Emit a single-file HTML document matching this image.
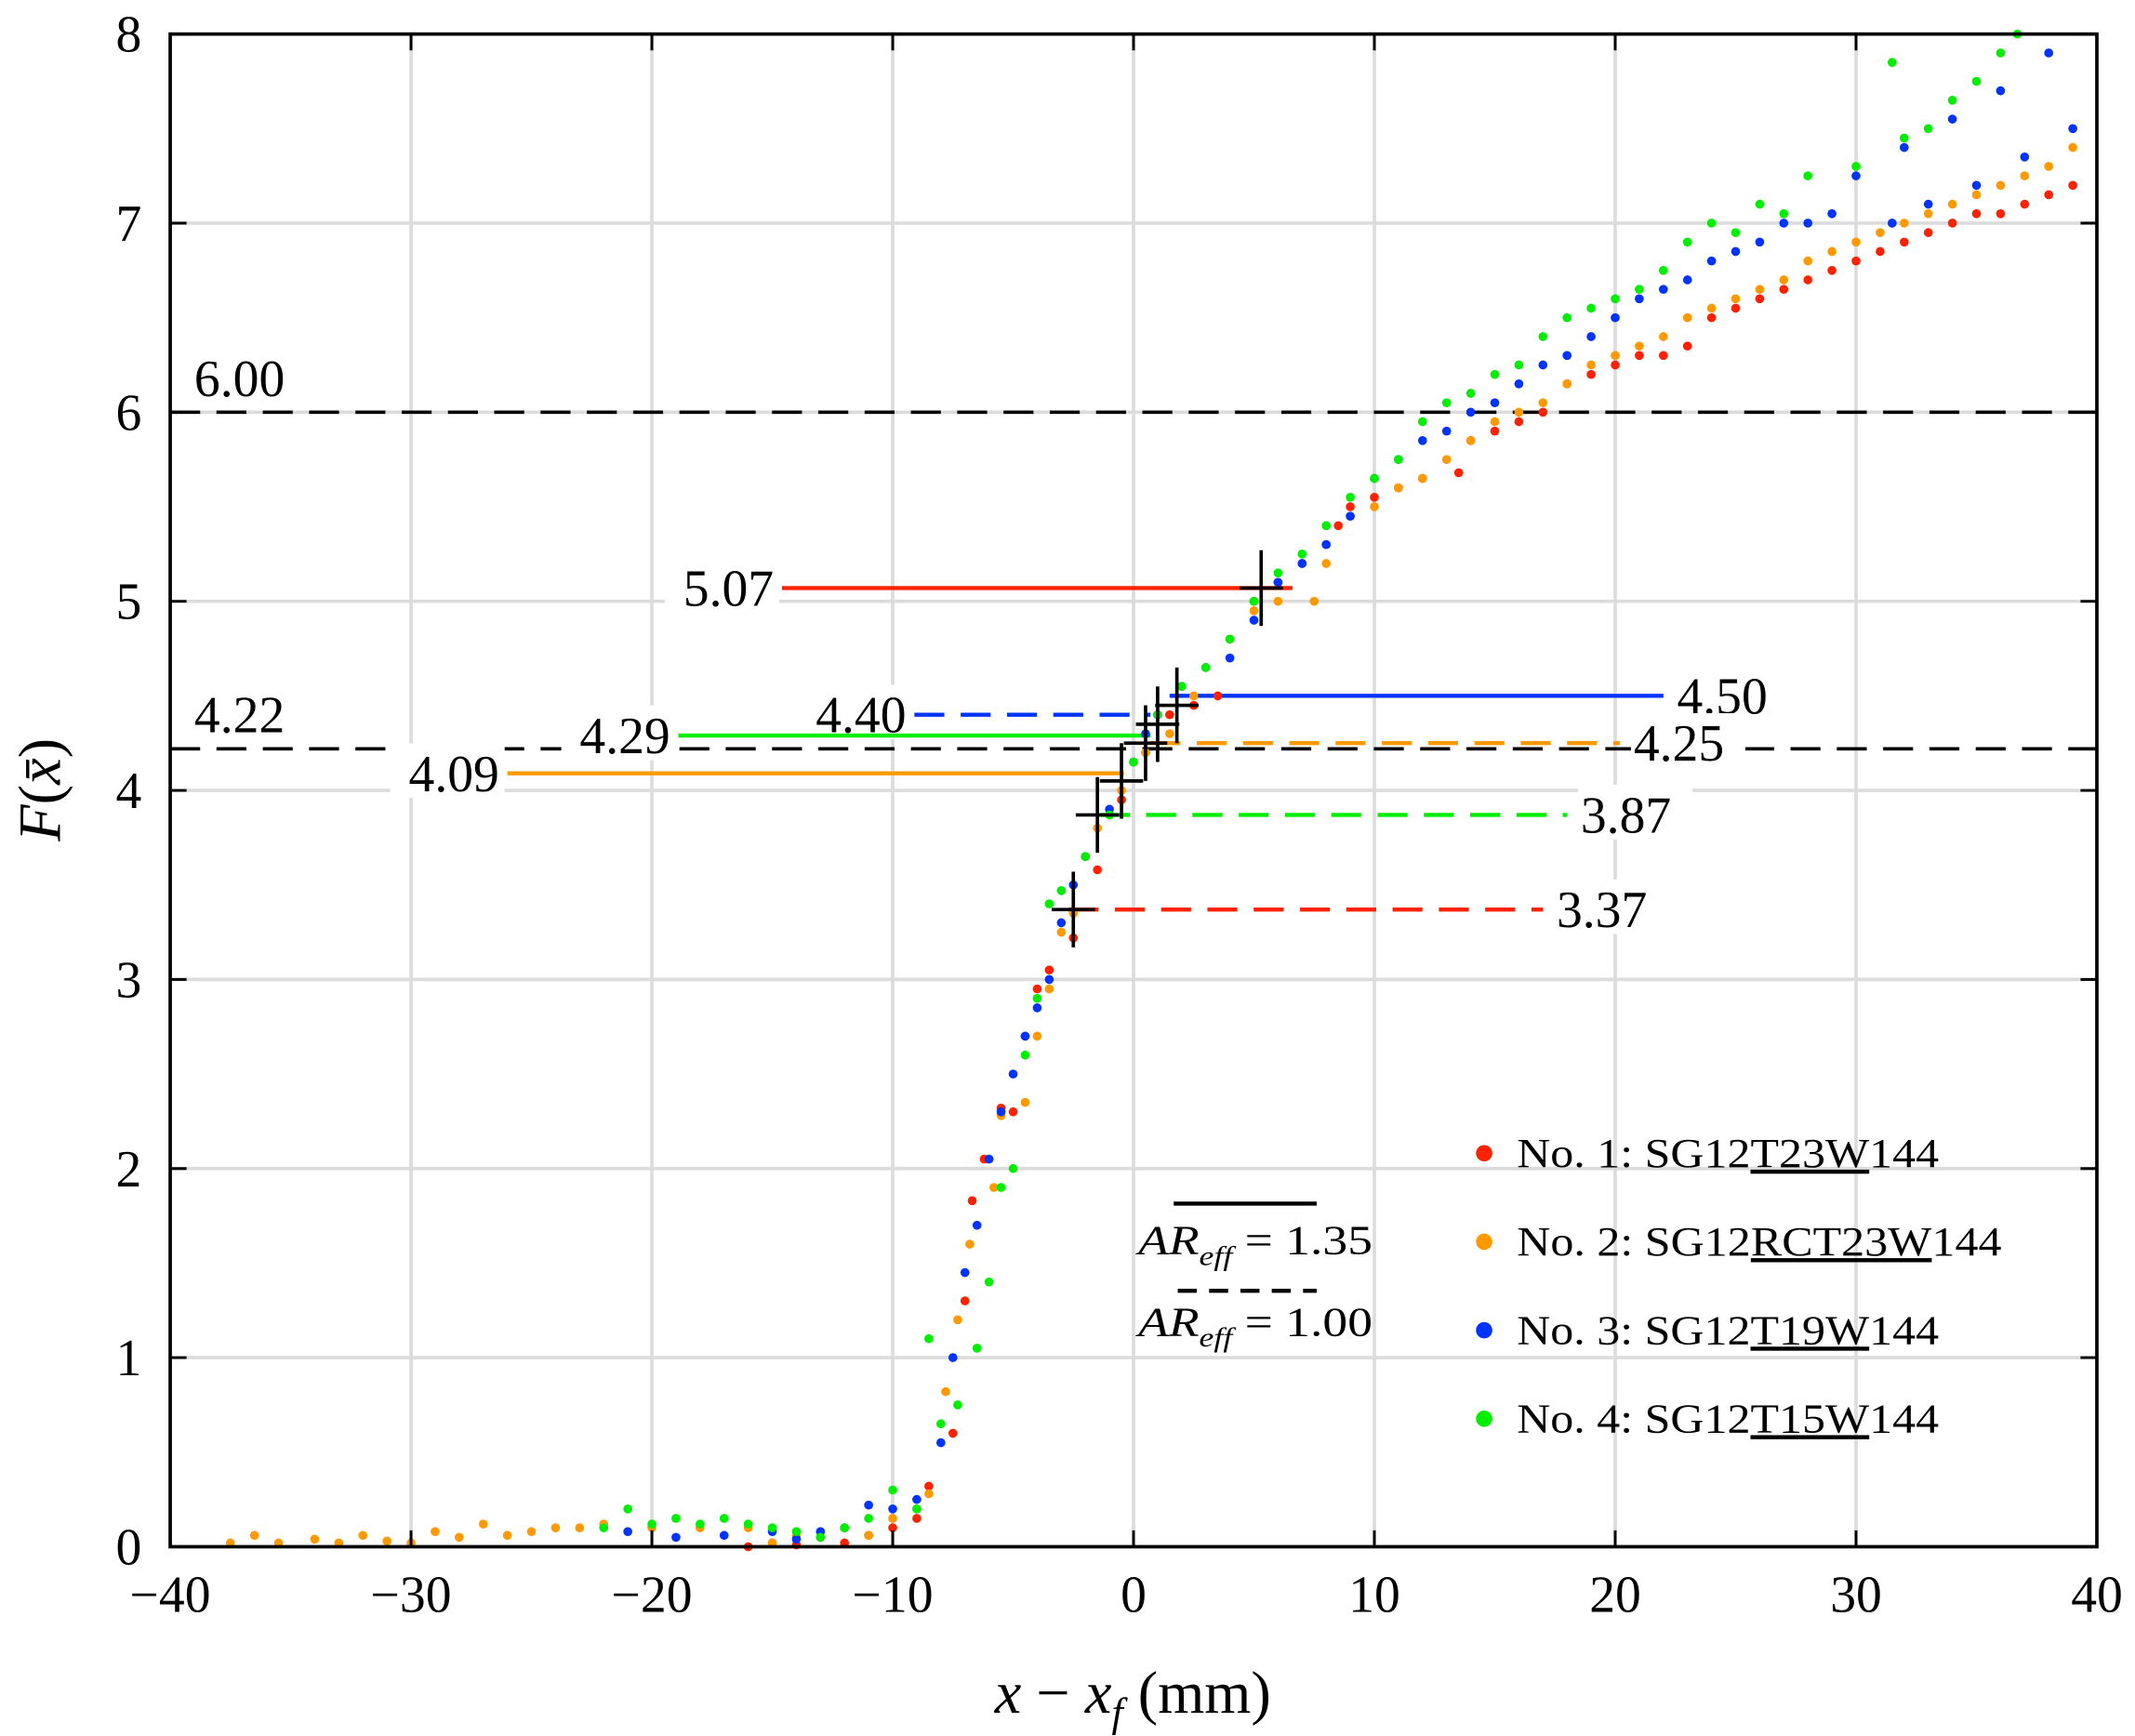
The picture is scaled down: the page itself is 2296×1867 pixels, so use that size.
<!DOCTYPE html>
<html><head><meta charset="utf-8"><style>
html,body{margin:0;padding:0;background:#fff}
svg{display:block}
text{font-family:"Liberation Serif",serif;fill:#000}
</style></head><body>
<svg id="chart" width="2296" height="1867" viewBox="0 0 1568 1275" xmlns="http://www.w3.org/2000/svg">
<g id="grid"></g>
<g id="reflines"></g>
<g id="points"></g>
<g id="crosses"></g>
<g id="axes"></g>
<g font-size="30">
  <circle cx="1090" cy="847" r="6" fill="#ff2200"/>
  <text x="1114" y="857" font-size="30" textLength="310" lengthAdjust="spacingAndGlyphs">No. 1: SG12<tspan text-decoration="underline">T23W</tspan>144</text>
  <circle cx="1090" cy="912" r="6" fill="#ff9900"/>
  <text x="1114" y="922" font-size="30" textLength="356" lengthAdjust="spacingAndGlyphs">No. 2: SG12<tspan text-decoration="underline">RCT23W</tspan>144</text>
  <circle cx="1090" cy="977" r="6" fill="#0033ff"/>
  <text x="1114" y="987" font-size="30" textLength="310" lengthAdjust="spacingAndGlyphs">No. 3: SG12<tspan text-decoration="underline">T19W</tspan>144</text>
  <circle cx="1090" cy="1042" r="6" fill="#00ee00"/>
  <text x="1114" y="1052" font-size="30" textLength="310" lengthAdjust="spacingAndGlyphs">No. 4: SG12<tspan text-decoration="underline">T15W</tspan>144</text>
</g>
<g>
  <line x1="862" y1="884" x2="967" y2="884" stroke="#000" stroke-width="3"/>
  <text x="836" y="921" font-size="30" font-style="italic" textLength="172" lengthAdjust="spacingAndGlyphs">AR<tspan font-size="20" dy="8">eff</tspan><tspan font-style="normal" dy="-8"> = 1.35</tspan></text>
  <line x1="865" y1="948" x2="967" y2="948" stroke="#000" stroke-width="3" stroke-dasharray="14,9"/>
  <text x="836" y="981" font-size="30" font-style="italic" textLength="172" lengthAdjust="spacingAndGlyphs">AR<tspan font-size="20" dy="8">eff</tspan><tspan font-style="normal" dy="-8"> = 1.00</tspan></text>
</g>
<text x="832" y="1258" font-size="44" text-anchor="middle"><tspan font-style="italic">x</tspan> − <tspan font-style="italic">x</tspan><tspan font-style="italic" font-size="30" dy="10">f</tspan><tspan dy="-10"> (mm)</tspan></text>
<text transform="translate(44,580) rotate(-90)" font-size="44" text-anchor="middle"><tspan font-style="italic">F</tspan>(<tspan font-style="italic">x̄</tspan>)</text>
</svg>
<script>
const xTicks=[-40,-30,-20,-10,0,10,20,30,40];
const yTicks=[0,1,2,3,4,5,6,7,8];
const redData=[[-16,0.0],[-15,0.02],[-14,0.01],[-13,0.05],[-12,0.02],[-11,0.06],[-10,0.1],[-9,0.15],[-8.5,0.32],[-7.5,0.6],[-7,1.3],[-6.7,1.83],[-6.2,2.05],[-5.5,2.32],[-5,2.3],[-4.5,2.7],[-4,2.95],[-3.5,3.05],[-2.5,3.22],[-1.5,3.58],[-0.5,3.95],[0.5,4.2],[1.5,4.4],[2.5,4.45],[3.5,4.5],[5,5.0],[6,5.1],[7,5.2],[8,5.3],[8.5,5.4],[9,5.5],[10,5.55],[11,5.6],[12,5.65],[13.5,5.68],[14,5.85],[15,5.9],[16,5.95],[17,6.0],[18,6.15],[19,6.2],[20,6.25],[21,6.3],[22,6.3],[23,6.35],[24,6.5],[25,6.55],[26,6.6],[27,6.65],[28,6.7],[29,6.75],[30,6.8],[31,6.85],[32,6.9],[33,6.95],[34,7.0],[35,7.05],[36,7.05],[37,7.1],[38,7.15],[39,7.2]];
const orangeData=[[-37.5,0.02],[-36.5,0.06],[-35.5,0.02],[-34,0.04],[-33,0.02],[-32,0.06],[-31,0.03],[-30,0.02],[-29,0.08],[-28,0.05],[-27,0.12],[-26,0.06],[-25,0.08],[-24,0.1],[-23,0.1],[-22,0.12],[-20,0.1],[-18,0.1],[-16,0.1],[-15,0.02],[-14,0.06],[-12,0.1],[-11,0.06],[-10,0.15],[-9,0.2],[-8.5,0.28],[-7.8,0.82],[-7.3,1.2],[-6.8,1.6],[-5.8,1.9],[-5.5,2.28],[-4.5,2.35],[-4,2.7],[-3.5,2.95],[-3,3.25],[-2.5,3.35],[-1.5,3.8],[-0.5,4.0],[0.5,4.2],[1.5,4.3],[2.5,4.5],[4,4.8],[5,4.95],[6,5.0],[7.5,5.0],[8,5.2],[9,5.45],[10,5.5],[11,5.6],[12,5.65],[13,5.75],[14,5.85],[15,5.95],[16,6.0],[17,6.05],[18,6.15],[19,6.25],[20,6.3],[21,6.35],[22,6.4],[23,6.5],[24,6.55],[25,6.6],[26,6.65],[27,6.7],[28,6.8],[29,6.85],[30,6.9],[31,6.95],[32,7.0],[33,7.05],[34,7.1],[35,7.15],[36,7.2],[37,7.25],[38,7.3],[39,7.4]];
const blueData=[[-21,0.08],[-19,0.05],[-17,0.06],[-15,0.08],[-14,0.04],[-13,0.08],[-12,0.1],[-11,0.22],[-10,0.2],[-9,0.25],[-8,0.55],[-7.5,1.0],[-7,1.45],[-6.5,1.7],[-6,2.05],[-5.5,2.3],[-5,2.5],[-4.5,2.7],[-4,2.85],[-3.5,3.0],[-3,3.3],[-2.5,3.5],[-2,3.65],[-1,3.9],[0,4.15],[0.5,4.3],[1,4.4],[2,4.55],[3,4.65],[4,4.7],[5,4.9],[6,5.1],[7,5.2],[8,5.3],[9,5.45],[10,5.65],[11,5.75],[12,5.85],[13,5.9],[14,6.0],[15,6.05],[16,6.15],[17,6.25],[18,6.3],[19,6.4],[20,6.5],[21,6.6],[22,6.65],[23,6.7],[24,6.8],[25,6.85],[26,6.9],[27,7.0],[28,7.0],[29,7.05],[30,7.25],[31.5,7.0],[32,7.4],[33,7.1],[34,7.55],[35,7.2],[36,7.7],[37,7.35],[38,7.9],[39,7.5]];
const greenData=[[-22,0.1],[-21,0.2],[-20,0.12],[-19,0.15],[-18,0.12],[-17,0.15],[-16,0.12],[-15,0.1],[-14,0.08],[-13,0.05],[-12,0.1],[-11,0.15],[-10,0.3],[-9,0.2],[-8.5,1.1],[-8,0.65],[-7.3,0.75],[-6.5,1.05],[-6,1.4],[-5.5,1.9],[-5,2.0],[-4.5,2.6],[-4,2.9],[-3.5,3.4],[-3,3.47],[-2,3.65],[-1,3.87],[0,4.15],[1,4.4],[2,4.55],[3,4.65],[4,4.8],[5,5.0],[6,5.15],[7,5.25],[8,5.4],[9,5.55],[10,5.65],[11,5.75],[12,5.95],[13,6.05],[14,6.1],[15,6.2],[16,6.25],[17,6.4],[18,6.5],[19,6.55],[20,6.6],[21,6.65],[22,6.75],[23,6.9],[24,7.0],[25,6.95],[26,7.1],[27,7.05],[28,7.25],[30,7.3],[31.5,7.85],[32,7.45],[33,7.5],[34,7.65],[35,7.75],[36,7.9],[36.7,8.0]];
const refValues=[6.00,4.22];
const segY=[5.07,4.40,4.50,4.29,4.09,4.25,3.87,3.37];
const segX0=[-14.6,-9.1,1.5,-18.9,-26,0.7,-1.4,-2.7];
const segX1=[6.6,0.7,22,0.7,-0.4,20.2,18,17];
const segColor=['#ff2200','#0033ff','#0033ff','#00ee00','#ff9900','#ff9900','#00ee00','#ff2200'];
const segDash=[0,1,0,0,0,1,1,1];
const crossX=[5.3,1.8,1.0,0.5,-0.5,-1.5,-2.5];
const crossY=[5.07,4.45,4.35,4.25,4.05,3.87,3.37];

const L=125,R=1540,T=25,B=1136;
const sx=v=>L+(v+40)/80*(R-L);
const sy=v=>B-v/8*(B-T);
const NS='http://www.w3.org/2000/svg';
function mk(tag,parent,attrs){const e=document.createElementNS(NS,tag);for(const k in attrs)e.setAttribute(k,attrs[k]);parent.appendChild(e);return e;}
const grid=document.getElementById('grid'),axes=document.getElementById('axes');
xTicks.forEach(t=>{
  const g=mk('line',grid,{x1:sx(t),x2:sx(t),y1:T,y2:B,stroke:'#dcdcdc','stroke-width':2.5});
  
  
  mk('line',axes,{x1:sx(t),x2:sx(t),y1:B,y2:B-12,stroke:'#000','stroke-width':2});
  mk('line',axes,{x1:sx(t),x2:sx(t),y1:T,y2:T+12,stroke:'#000','stroke-width':2});
  const tx=mk('text',axes,{x:sx(t),y:B+48,'font-size':38,'text-anchor':'middle'});
  tx.textContent=(t<0?'−':'')+Math.abs(t);
  
  
});
yTicks.forEach(t=>{
  const g=mk('line',grid,{x1:L,x2:R,y1:sy(t),y2:sy(t),stroke:'#dcdcdc','stroke-width':2.5});
  
  
  mk('line',axes,{x1:L,x2:L+12,y1:sy(t),y2:sy(t),stroke:'#000','stroke-width':2});
  mk('line',axes,{x1:R,x2:R-12,y1:sy(t),y2:sy(t),stroke:'#000','stroke-width':2});
  const tx=mk('text',axes,{x:104,y:sy(t)+13,'font-size':38,'text-anchor':'end'});
  tx.textContent=t;
  
  
});
const fr=mk('rect',axes,{x:L,y:T,width:R-L,height:B-T,fill:'none',stroke:'#000','stroke-width':2.5});



const ref=document.getElementById('reflines');
refValues.forEach(v=>{
  const l=mk('line',ref,{x1:L,x2:R,y1:sy(v),y2:sy(v),stroke:'#000','stroke-width':2.5,'stroke-dasharray':'22,12'});
  
  
  const bg=mk('rect',ref,{x:L+12,y:sy(v)-42,width:86,height:36,fill:'#fff'});
  const tx=mk('text',ref,{x:sx(-39),y:sy(v)-12,'font-size':38});
  tx.textContent=v.toFixed(2);
  
  
});
segY.forEach((v,i)=>{
  const a={x1:sx(segX0[i]),x2:sx(segX1[i]),y1:sy(v),y2:sy(v),stroke:segColor[i],'stroke-width':3};
  if(segDash[i])a['stroke-dasharray']='22,12';
  const l=mk('line',ref,a);
  
  
  const right=segX1[i]>10;
  const px=right?sx(segX1[i])+10:sx(segX0[i])-6;
  const bw=80;
  mk('rect',ref,{x:right?px-2:px-bw,y:sy(v)-22,width:bw+4,height:40,fill:'#fff'});
  const tx=mk('text',ref,{x:px,y:sy(v)+13,'font-size':38,'text-anchor':right?'start':'end'});
  tx.textContent=v.toFixed(2);
  
  
});
const pts=document.getElementById('points');
[[redData,'#ff2200'],[orangeData,'#ff9900'],[blueData,'#0033ff'],[greenData,'#00ee00']].forEach(([d,c])=>{
  d.forEach(p=>{
    const e=mk('circle',pts,{cx:sx(p[0]),cy:sy(p[1]),r:3.3,fill:c});
    
    
  });
});
const cr=document.getElementById('crosses');
crossX.forEach((x,i)=>{
  const y=crossY[i];
  const h=mk('line',cr,{x1:sx(x-0.9),x2:sx(x+0.9),y1:sy(y),y2:sy(y),stroke:'#000','stroke-width':2.5});
  
  
  const v=mk('line',cr,{x1:sx(x),x2:sx(x),y1:sy(y-0.2),y2:sy(y+0.2),stroke:'#000','stroke-width':2.5});
  
  
});
</script>
</body></html>
